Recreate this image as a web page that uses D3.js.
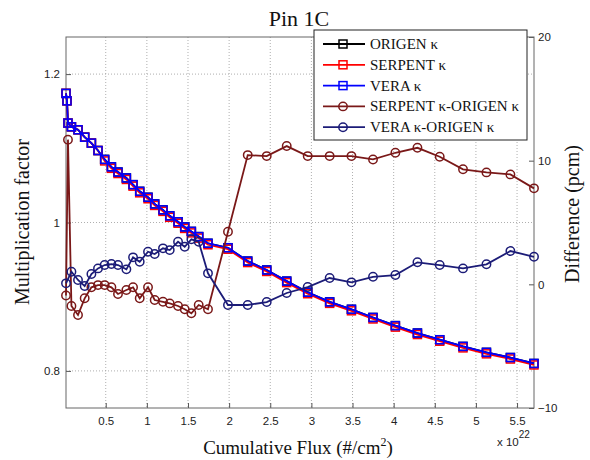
<!DOCTYPE html>
<html><head><meta charset="utf-8">
<script src="https://cdn.jsdelivr.net/npm/d3@7/dist/d3.min.js"></script>
<style>body{margin:0;background:#fff}</style>
</head><body><svg id="c" width="590" height="460"></svg>
<script>
// Cumulative flux (x 10^22 #/cm^2)
const flux = [0.017,0.029,0.041,0.083,0.163,0.244,0.326,0.406,0.487,0.569,0.649,0.751,0.832,0.913,1.014,1.095,1.196,1.278,1.379,1.460,1.541,1.630,1.743,
  1.986,2.226,2.457,2.700,2.955,3.222,3.487,3.749,4.021,4.289,4.560,4.843,5.128,5.419,5.706];
const origenK = [1.174,1.164,1.134,1.129,1.125,1.115,1.107,1.097,1.085,1.075,1.068,1.060,1.051,1.042,1.034,1.025,1.017,1.009,1.001,0.994,0.988,0.981,0.972,
  0.966,0.948,0.936,0.921,0.906,0.893,0.883,0.872,0.861,0.851,0.842,0.833,0.825,0.818,0.810];
const serpentK = [1.174,1.164,1.134,1.129,1.125,1.115,1.107,1.097,1.083,1.073,1.066,1.058,1.049,1.040,1.032,1.023,1.015,1.007,0.999,0.992,0.986,0.979,0.970,
  0.964,0.946,0.934,0.919,0.904,0.891,0.881,0.870,0.859,0.849,0.840,0.831,0.823,0.816,0.808];
const veraK = [1.174,1.164,1.134,1.129,1.125,1.115,1.107,1.097,1.085,1.075,1.068,1.060,1.051,1.042,1.034,1.025,1.017,1.009,1.001,0.994,0.988,0.981,0.972,
  0.966,0.948,0.936,0.921,0.906,0.893,0.883,0.872,0.861,0.851,0.842,0.833,0.825,0.818,0.810];
const serpentDiff = [-0.9,null,11.7,-1.75,-2.48,-1.13,-0.24,-0.06,-0.06,-0.24,-0.78,-0.46,-0.24,-1.13,-0.24,-1.27,-1.41,-1.54,-1.75,-2.02,-2.34,-1.67,-2.02,
  4.25,10.45,10.37,11.18,10.37,10.37,10.37,10.10,10.64,11.04,10.32,9.30,9.05,8.89,7.76];
const veraDiff = [0.08,null,null,1.02,0.35,-0.14,0.83,1.29,1.56,1.64,1.56,1.21,2.18,1.83,2.64,2.45,2.91,2.77,3.44,3.04,3.64,3.44,0.89,
  -1.67,-1.67,-1.43,-0.70,-0.22,0.51,0.16,0.61,0.75,1.78,1.56,1.29,1.62,2.69,2.23];
const xTicks = [0.5,1,1.5,2,2.5,3,3.5,4,4.5,5,5.5];
const yLTicks = [0.8,1,1.2];
const yRTicks = [-10,0,10,20];
const legendLabels = ["ORIGEN κ","SERPENT κ","VERA κ","SERPENT κ-ORIGEN κ","VERA κ-ORIGEN κ"];

const svg = d3.select("#c");
const L=66,R=534,T=37,B=408;
const x = d3.scaleLinear().domain([flux[0], flux[flux.length-1]]).range([L,R]);
const yL = d3.scaleLinear().domain([0.75,1.25]).range([B,T]);
const yR = d3.scaleLinear().domain([-10,20]).range([B,T]);
const serif = "'Liberation Serif','Times New Roman',serif";
const sans = "'Liberation Sans',Arial,sans-serif";

// grid
const grid = svg.append("g").attr("stroke","#9a9a9a").attr("stroke-width",0.8).attr("stroke-dasharray","1,2");
xTicks.forEach(t=>grid.append("line").attr("x1",x(t)).attr("x2",x(t)).attr("y1",T).attr("y2",B));
yLTicks.forEach(t=>grid.append("line").attr("x1",L).attr("x2",R).attr("y1",yL(t)).attr("y2",yL(t)));

// axes
function styleAxis(g){
  g.select(".domain").remove();
  g.selectAll(".tick line").attr("stroke","#555");
  g.selectAll(".tick text").attr("font-family",sans).attr("font-size",11.5).attr("fill","#222");
}
svg.append("g").attr("transform",`translate(0,${B})`)
  .call(d3.axisBottom(x).tickValues(xTicks).tickSizeInner(-5).tickSizeOuter(0).tickPadding(9).tickFormat(d3.format("")))
  .call(styleAxis);
svg.append("g").attr("transform",`translate(${L},0)`)
  .call(d3.axisLeft(yL).tickValues(yLTicks).tickSizeInner(-5).tickSizeOuter(0).tickPadding(6).tickFormat(d=>d===1?"1":d3.format(".1f")(d)))
  .call(styleAxis);
svg.append("g").attr("transform",`translate(${R},0)`)
  .call(d3.axisRight(yR).tickValues(yRTicks).tickSizeInner(-5).tickSizeOuter(0).tickPadding(4))
  .call(styleAxis);
svg.append("rect").attr("x",L).attr("y",T).attr("width",R-L).attr("height",B-T)
  .attr("fill","none").attr("stroke","#666").attr("stroke-width",1);

// series
const kSeries = [
  {vals:origenK,color:"#000000",scale:yL,marker:"square"},
  {vals:serpentK,color:"#ff0000",scale:yL,marker:"square"},
  {vals:veraK,color:"#0000ff",scale:yL,marker:"square"},
  {vals:serpentDiff,color:"#7a1818",scale:yR,marker:"circle"},
  {vals:veraDiff,color:"#1c1c78",scale:yR,marker:"circle"}
];
kSeries.forEach(s=>{
  const pts = flux.map((f,i)=>[f,s.vals[i]]).filter(p=>p[1]!==null);
  const line = d3.line().x(p=>x(p[0])).y(p=>s.scale(p[1]));
  svg.append("path").datum(pts).attr("d",line).attr("fill","none")
    .attr("stroke",s.color).attr("stroke-width",1.8);
  const g = svg.append("g").attr("fill","none").attr("stroke",s.color).attr("stroke-width",1.5);
  pts.forEach(p=>{
    const cx=x(p[0]), cy=s.scale(p[1]);
    if(s.marker==="square") g.append("rect").attr("x",cx-4).attr("y",cy-4).attr("width",8).attr("height",8);
    else g.append("circle").attr("cx",cx).attr("cy",cy).attr("r",4.2);
  });
});

// legend
const lg = svg.append("g");
lg.append("rect").attr("x",314).attr("y",30).attr("width",213).attr("height",110)
  .attr("fill","#fff").attr("stroke","#222").attr("stroke-width",1);
legendLabels.forEach((lab,i)=>{
  const s = kSeries[i], yy = 44 + i*20.8;
  lg.append("line").attr("x1",323).attr("x2",365).attr("y1",yy).attr("y2",yy)
    .attr("stroke",s.color).attr("stroke-width",1.8);
  if(s.marker==="square") lg.append("rect").attr("x",339).attr("y",yy-4).attr("width",8).attr("height",8)
    .attr("fill","none").attr("stroke",s.color).attr("stroke-width",1.5);
  else lg.append("circle").attr("cx",343).attr("cy",yy).attr("r",4.2)
    .attr("fill","none").attr("stroke",s.color).attr("stroke-width",1.5);
  lg.append("text").attr("x",370).attr("y",yy+5).attr("font-family",serif).attr("font-size",15)
    .attr("fill","#111").text(lab);
});

// titles
svg.append("text").attr("x",299).attr("y",26).attr("text-anchor","middle")
  .attr("font-family",serif).attr("font-size",22).attr("fill","#111").text("Pin 1C");
const xl = svg.append("text").attr("x",298).attr("y",454).attr("text-anchor","middle")
  .attr("font-family",serif).attr("font-size",19).attr("fill","#111");
xl.append("tspan").text("Cumulative Flux (#/cm");
xl.append("tspan").attr("dy",-8).attr("font-size",12).text("2");
xl.append("tspan").attr("dy",8).text(")");
svg.append("text").attr("transform","translate(29,222) rotate(-90)").attr("text-anchor","middle")
  .attr("font-family",serif).attr("font-size",20).attr("fill","#111").text("Multiplication factor");
svg.append("text").attr("transform","translate(579,214) rotate(-90)").attr("text-anchor","middle")
  .attr("font-family",serif).attr("font-size",20).attr("fill","#111").text("Difference (pcm)");
const ex = svg.append("text").attr("x",497).attr("y",446).attr("font-family",sans).attr("font-size",11.5).attr("fill","#222");
ex.append("tspan").text("x 10");
ex.append("tspan").attr("dy",-8).attr("font-size",10).text("22");
</script></body></html>
